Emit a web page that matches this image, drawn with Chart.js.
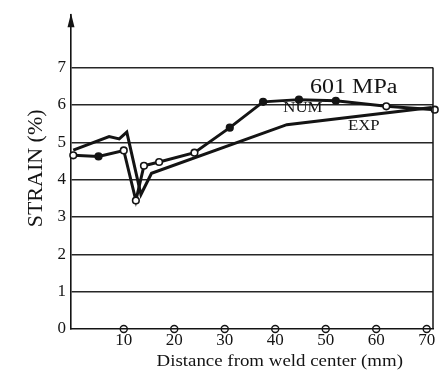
<!DOCTYPE html>
<html>
<head>
<meta charset="utf-8">
<script src="https://cdn.jsdelivr.net/npm/chart.js@4"></script>
<style>
  html, body { margin: 0; padding: 0; background: #fff; }
  #wrap { width: 444px; height: 371px; }
</style>
</head>
<body>
<div id="wrap"><canvas id="c" width="444" height="371"></canvas></div>
<script>
// ---- data ----
const numX = [0, 5, 10, 12.4, 14, 17, 24, 31, 37.6, 44.7, 52, 62, 71.6];
const numY = [4.65, 4.62, 4.78, 3.44, 4.37, 4.47, 4.72, 5.39, 6.08, 6.14, 6.11, 5.96, 5.87];
const expX = [0, 7.1, 9.1, 10.6, 13.4, 15.5, 42.3, 71];
const expY = [4.79, 5.15, 5.09, 5.27, 3.60, 4.17, 5.47, 5.93];
const xTickValues = [10, 20, 30, 40, 50, 60, 70];
const xTickLabels = ['10', '20', '30', '40', '50', '60', '70'];
const yTickValues = [0, 1, 2, 3, 4, 5, 6, 7];
const yTickLabels = ['0', '1', '2', '3', '4', '5', '6', '7'];
const xTitle = 'Distance from weld center (mm)';
const yTitle = 'STRAIN (%)';
const numLabel = 'NUM';
const expLabel = 'EXP';
const stressLabel = '601 MPa';

// ---- styling ----
const INK = '#141414';
const SERIF = '"Liberation Serif", "DejaVu Serif", serif';
const numMarkerFill = ['#fff', INK, '#fff', '#fff', '#fff', '#fff', '#fff', INK, INK, INK, INK, '#fff', '#fff'];

const toPts = (xs, ys) => xs.map((x, i) => ({ x: x, y: ys[i] }));

const decor = {
  id: 'decor',
  afterDraw(chart) {
    const { ctx, chartArea: ca, scales: { x, y } } = chart;
    ctx.save();
    ctx.strokeStyle = INK;
    ctx.fillStyle = INK;
    // right frame from 0 up to top gridline
    ctx.lineWidth = 1.5;
    ctx.beginPath();
    ctx.moveTo(ca.right, y.getPixelForValue(0));
    ctx.lineTo(ca.right, y.getPixelForValue(7));
    ctx.stroke();
    // arrow head at top of y axis
    ctx.beginPath();
    ctx.moveTo(ca.left, ca.top - 2);
    ctx.lineTo(ca.left - 3.5, ca.top + 12);
    ctx.lineTo(ca.left + 3.5, ca.top + 12);
    ctx.closePath();
    ctx.fill();

    const stretched = (txt, px, py, size, sx, align, baseline, rot) => {
      ctx.save();
      ctx.translate(px, py);
      if (rot) ctx.rotate(rot);
      ctx.scale(sx, 1);
      ctx.font = size + 'px ' + SERIF;
      ctx.textAlign = align;
      ctx.textBaseline = baseline;
      ctx.fillText(txt, 0, 0);
      ctx.restore();
    };
    stretched(stressLabel, x.getPixelForValue(46.9), y.getPixelForValue(6.32), 20, 1.2, 'left', 'alphabetic');
    stretched(numLabel, x.getPixelForValue(41.6), y.getPixelForValue(5.9), 14, 1.2, 'left', 'middle');
    stretched(expLabel, x.getPixelForValue(54.4), y.getPixelForValue(5.43), 14, 1.2, 'left', 'middle');
    // axis titles
    stretched(xTitle, x.getPixelForValue(40.9), ca.bottom + 33, 16, 1.18, 'center', 'middle');
    stretched(yTitle, ca.left - 35, y.getPixelForValue(4.3), 22, 1, 'center', 'middle', -Math.PI / 2);
    ctx.restore();
  }
};

new Chart(document.getElementById('c'), {
  type: 'scatter',
  data: {
    datasets: [
      {
        label: 'EXP',
        data: toPts(expX, expY),
        showLine: true,
        borderColor: INK,
        borderWidth: 3,
        pointRadius: 0,
        tension: 0,
        clip: false
      },
      {
        label: 'NUM',
        data: toPts(numX, numY),
        showLine: true,
        borderColor: INK,
        borderWidth: 3,
        pointRadius: 3.3,
        pointBorderWidth: 1.6,
        pointBorderColor: INK,
        pointBackgroundColor: numMarkerFill,
        tension: 0,
        clip: false
      },
      {
        label: 'axis marks',
        data: xTickValues.map(v => ({ x: v, y: 0 })),
        showLine: false,
        pointRadius: 3.5,
        pointBorderWidth: 1.4,
        pointBorderColor: INK,
        pointBackgroundColor: 'rgba(0,0,0,0)',
        clip: false
      }
    ]
  },
  options: {
    responsive: false,
    animation: false,
    layout: { padding: { top: 7, right: 11, left: 0, bottom: 0 } },
    plugins: { legend: { display: false }, tooltip: { enabled: false } },
    scales: {
      x: {
        type: 'linear',
        min: -0.45,
        max: 71.25,
        afterFit: s => { s.height = 42; },
        afterBuildTicks: s => { s.ticks = xTickValues.map(v => ({ value: v })); },
        grid: { display: true, color: 'rgba(0,0,0,0)', drawTicks: false },
        border: { display: true, color: INK, width: 1.6 },
        ticks: {
          padding: 1,
          maxRotation: 0,
          autoSkip: false,
          color: INK,
          font: { family: SERIF, size: 17 },
          callback: (v, i) => xTickLabels[i]
        }
      },
      y: {
        type: 'linear',
        min: 0,
        max: 8.4,
        afterFit: s => { s.width = 71; },
        afterBuildTicks: s => { s.ticks = yTickValues.map(v => ({ value: v })); },
        grid: {
          drawTicks: false,
          lineWidth: 1.4,
          color: c => (c.tick && c.tick.value >= 1 && c.tick.value <= 7) ? '#262626' : 'rgba(0,0,0,0)'
        },
        border: { display: true, color: INK, width: 1.6 },
        ticks: {
          padding: 5,
          autoSkip: false,
          color: INK,
          font: { family: SERIF, size: 17 },
          callback: (v, i) => yTickLabels[i]
        }
      }
    }
  },
  plugins: [decor]
});
</script>
</body>
</html>
